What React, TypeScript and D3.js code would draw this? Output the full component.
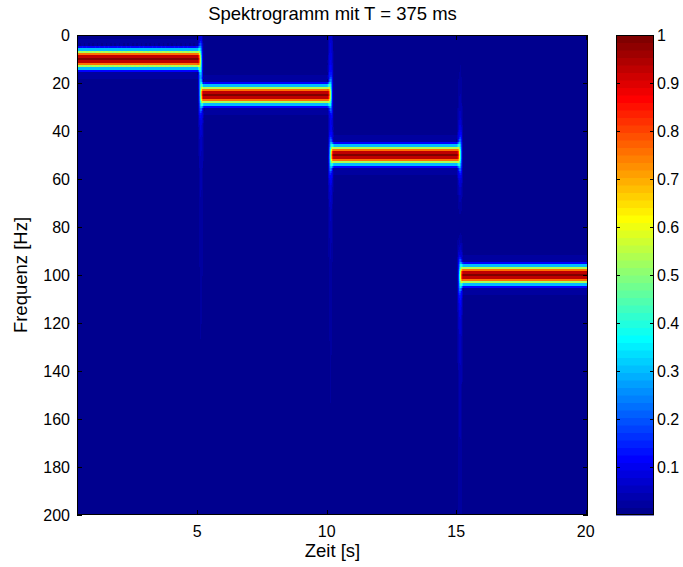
import React, { useMemo } from "react";
import * as d3 from "d3";

// ---- data ----
const segmentStarts = [0, 5.15, 10.15, 15.15]; // s, switching instants of the test tone
const segmentFreqs = [10, 25, 50, 100]; // Hz, tone frequency in each segment
const windowLength = 0.32; // s, effective analysis window (title: T = 375 ms)
const timeExtent = [0.36, 20.09]; // s, shown time range
const freqExtent = [0, 200]; // Hz
const xTicks = [5, 10, 15, 20];
const yTicks = [0, 20, 40, 60, 80, 100, 120, 140, 160, 180, 200];
const colorTicks = [0.1, 0.2, 0.3, 0.4, 0.5, 0.6, 0.7, 0.8, 0.9, 1];
const titleText = "Spektrogramm mit T = 375 ms";
const xLabel = "Zeit [s]";
const yLabel = "Frequenz [Hz]";

// ---- layout ----
const W = 683;
const H = 567;
const plot = { left: 77, right: 588, top: 35, bottom: 515 };
const cbar = { left: 616, right: 654, top: 35, bottom: 515 };
const FONT = "'Liberation Sans', Arial, Helvetica, sans-serif";

// MATLAB jet(64)
function jetColor(i: number): string {
  const v = (i + 1) / 64;
  const c = (x: number) => Math.max(0, Math.min(1, x));
  const r = c(1.5 - Math.abs(4 * v - 3));
  const g = c(1.5 - Math.abs(4 * v - 2));
  const b = c(1.5 - Math.abs(4 * v - 1));
  return d3.rgb(r * 255, g * 255, b * 255).formatHex();
}
const jet = d3.range(64).map(jetColor);

function buildSpectrogram(nCols: number) {
  const fs = 1000;
  const N = Math.round(windowLength * fs);
  const win = new Float64Array(N);
  for (let n = 0; n < N; n++) win[n] = 0.5 - 0.5 * Math.cos((2 * Math.PI * n) / (N - 1));
  const cosT = new Float64Array(fs);
  const sinT = new Float64Array(fs);
  for (let k = 0; k < fs; k++) {
    cosT[k] = Math.cos((2 * Math.PI * k) / fs);
    sinT[k] = Math.sin((2 * Math.PI * k) / fs);
  }
  const nF = freqExtent[1] - freqExtent[0] + 1;
  const out = new Float64Array(nCols * nF);
  const xw = new Float64Array(N);
  const tScale = d3.scaleLinear().domain([0, nCols]).range(timeExtent);
  let maxV = 0;
  for (let c = 0; c < nCols; c++) {
    const tc = tScale(c + 0.5);
    for (let n = 0; n < N; n++) {
      const t = tc - windowLength / 2 + n / fs;
      let k = 0;
      for (let s = 0; s < segmentStarts.length; s++) if (t >= segmentStarts[s]) k = s;
      xw[n] = win[n] * Math.cos(2 * Math.PI * segmentFreqs[k] * t);
    }
    for (let fi = 0; fi < nF; fi++) {
      const f = freqExtent[0] + fi;
      let re = 0, im = 0;
      for (let n = 0; n < N; n++) {
        const idx = (f * n) % fs;
        re += xw[n] * cosT[idx];
        im -= xw[n] * sinT[idx];
      }
      const m = Math.sqrt(re * re + im * im);
      out[c * nF + fi] = m;
      if (m > maxV) maxV = m;
    }
  }
  const canvas = document.createElement("canvas");
  canvas.width = nCols;
  canvas.height = nF;
  const ctx = canvas.getContext("2d")!;
  const img = ctx.createImageData(nCols, nF);
  for (let c = 0; c < nCols; c++) {
    for (let fi = 0; fi < nF; fi++) {
      const v = out[c * nF + fi] / maxV;
      const idx = Math.min(63, Math.max(0, Math.floor(v * 64)));
      const col = d3.rgb(jet[idx]);
      const p = (fi * nCols + c) * 4;
      img.data[p] = col.r;
      img.data[p + 1] = col.g;
      img.data[p + 2] = col.b;
      img.data[p + 3] = 255;
    }
  }
  ctx.putImageData(img, 0, 0);
  return canvas.toDataURL();
}

export default function App() {
  const x = d3.scaleLinear().domain(timeExtent).range([plot.left, plot.right]);
  const y = d3.scaleLinear().domain(freqExtent).range([plot.top, plot.bottom]);
  const yc = d3.scaleLinear().domain([0, 1]).range([cbar.bottom, cbar.top]);
  const nCols = plot.right - plot.left;
  const url = useMemo(() => buildSpectrogram(nCols), [nCols]);
  const tick = 5;
  const ctick = 4;

  return (
    <svg
      width={W}
      height={H}
      style={{ position: "absolute", left: 0, top: 0, background: "#fff" }}
      fontFamily={FONT}
    >
      <defs>
        <clipPath id="plotClip">
          <rect x={plot.left} y={plot.top} width={plot.right - plot.left} height={plot.bottom - plot.top} />
        </clipPath>
      </defs>
      <rect x={0} y={0} width={W} height={H} fill="#fff" />
      <g clipPath="url(#plotClip)">
        <image
          href={url}
          x={plot.left}
          y={y(freqExtent[0] - 0.5)}
          width={plot.right - plot.left}
          height={y(freqExtent[1] + 0.5) - y(freqExtent[0] - 0.5)}
          preserveAspectRatio="none"
          style={{ imageRendering: "pixelated" }}
        />
      </g>
      {/* axes box */}
      <rect
        x={plot.left + 0.5}
        y={plot.top + 0.5}
        width={plot.right - plot.left - 1}
        height={plot.bottom - plot.top - 1}
        fill="none"
        stroke="#000"
        strokeWidth={1}
      />
      {/* ticks */}
      {yTicks.map((t) => (
        <g key={"y" + t}>
          <line x1={plot.left} x2={plot.left + tick} y1={Math.round(y(t)) + 0.5} y2={Math.round(y(t)) + 0.5} stroke="#000" />
          <line x1={plot.right - tick} x2={plot.right} y1={Math.round(y(t)) + 0.5} y2={Math.round(y(t)) + 0.5} stroke="#000" />
          <text x={plot.left - 7} y={y(t)} dy="0.36em" textAnchor="end" fontSize={16} fill="#000">
            {t}
          </text>
        </g>
      ))}
      {xTicks.map((t) => (
        <g key={"x" + t}>
          <line x1={Math.round(x(t)) + 0.5} x2={Math.round(x(t)) + 0.5} y1={plot.bottom} y2={plot.bottom - tick} stroke="#000" />
          <line x1={Math.round(x(t)) + 0.5} x2={Math.round(x(t)) + 0.5} y1={plot.top} y2={plot.top + tick} stroke="#000" />
          <text x={x(t)} y={plot.bottom + 22} textAnchor="middle" fontSize={16} fill="#000">
            {t}
          </text>
        </g>
      ))}
      {/* title & labels */}
      <text x={(plot.left + plot.right) / 2} y={20} textAnchor="middle" fontSize={18.5} fill="#000">
        {titleText}
      </text>
      <text x={(plot.left + plot.right) / 2} y={557} textAnchor="middle" fontSize={18.5} fill="#000">
        {xLabel}
      </text>
      <text
        transform={`translate(27,${(plot.top + plot.bottom) / 2}) rotate(-90)`}
        textAnchor="middle"
        fontSize={18.5}
        fill="#000"
      >
        {yLabel}
      </text>
      {/* colorbar */}
      {jet.map((c, i) => (
        <rect
          key={"c" + i}
          x={cbar.left}
          y={yc((i + 1) / 64)}
          width={cbar.right - cbar.left}
          height={yc(i / 64) - yc((i + 1) / 64) + 0.5}
          fill={c}
        />
      ))}
      <rect
        x={cbar.left + 0.5}
        y={cbar.top + 0.5}
        width={cbar.right - cbar.left - 1}
        height={cbar.bottom - cbar.top - 1}
        fill="none"
        stroke="#000"
      />
      {colorTicks.map((t) => (
        <g key={"ct" + t}>
          {t < 1 && (
            <>
              <line x1={cbar.left} x2={cbar.left + ctick} y1={Math.round(yc(t)) + 0.5} y2={Math.round(yc(t)) + 0.5} stroke="#000" />
              <line x1={cbar.right - ctick} x2={cbar.right} y1={Math.round(yc(t)) + 0.5} y2={Math.round(yc(t)) + 0.5} stroke="#000" />
            </>
          )}
          <text x={cbar.right + 3} y={yc(t)} dy="0.36em" fontSize={16} fill="#000">
            {t}
          </text>
        </g>
      ))}
    </svg>
  );
}
